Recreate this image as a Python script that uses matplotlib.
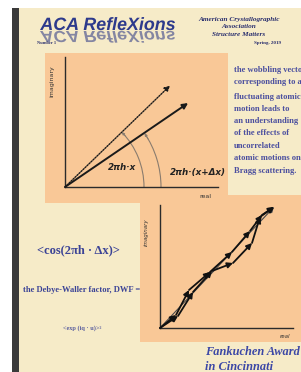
import matplotlib
matplotlib.use("Agg")
import matplotlib.pyplot as plt
from matplotlib.patches import Rectangle, Arc, PathPatch
from matplotlib.textpath import TextPath
from matplotlib.font_manager import FontProperties
from matplotlib.transforms import Affine2D
import numpy as np

# ---- data -------------------------------------------------------------
# top diagram: two phase vectors (angle in degrees, length) and angle arcs
vector_names = ["x", "x + dx"]
vector_angles = [34.3, 44.0]
vector_lengths = [149, 146]
arc_radii = [79, 96]
arc_angles = [44.0, 34.0]
arc_labels = ["2πh·x", "2πh·(x+Δx)"]

# bottom diagram: straight sum vector and two random walks
sum_vector = (114, 121)
walk_a_x = [0, 16, 29, 50, 72, 90, 102, 114]
walk_a_y = [0, 13, 38, 56, 76, 97, 113, 121]
walk_b_x = [0, 18, 33, 52, 73, 92, 100, 114]
walk_b_y = [0, 12, 36, 57, 65, 85, 111, 121]

column_lines = [
    "the wobbling vecto",
    "corresponding to a",
    "fluctuating atomic",
    "motion leads to",
    "an understanding",
    "of the effects of",
    "uncorrelated",
    "atomic motions on",
    "Bragg scattering.",
]
column_y = [70, 82, 97, 109, 121, 133, 146, 158, 171]

W, H = 301, 372
CREAM = "#f6ebc8"
PEACH = "#f9c897"
BLUE = "#3b4396"
INK = "#2b2b2b"

fig = plt.figure(figsize=(W / 100, H / 100), dpi=100, facecolor="white")
canvas = fig.add_axes([0, 0, 1, 1])
canvas.set_xlim(0, W)
canvas.set_ylim(H, 0)
canvas.axis("off")

# page background
canvas.add_patch(Rectangle((12, 8), 7, H, color="#3a3a3a", lw=0))
canvas.add_patch(Rectangle((19, 8), W, H, color=CREAM, lw=0))
canvas.add_patch(Rectangle((45, 53), 183, 150, color=PEACH, lw=0))
canvas.add_patch(Rectangle((140, 195), 161, 147, color=PEACH, lw=0))

# masthead with its mirrored reflection
fp = FontProperties(family="Liberation Sans", weight="bold", style="italic")
tp = TextPath((0, 0), "ACA RefleXions", size=10, prop=fp)
ext = tp.get_extents()
s = 135 / ext.width
x0 = 40 - ext.x0 * s
canvas.add_patch(PathPatch(tp, transform=Affine2D().scale(s, -s).translate(x0, 30)
                           + canvas.transData, color="#2d3a8c", lw=0))
canvas.add_patch(PathPatch(tp, transform=Affine2D().scale(s, s * 0.9).translate(x0, 31)
                           + canvas.transData, color="#5e6496", alpha=0.75, lw=0))

canvas.text(37, 43, "Number 1", fontsize=3.2, family="Liberation Serif",
            weight="bold", color="#2a2f6e", va="center")
for txt, yy in zip(["American Crystallographic", "Association", "Structure Matters"],
                   [20, 27, 34]):
    canvas.text(239, yy, txt, fontsize=5.2, family="Liberation Serif", weight="bold",
                style="italic", color="#2a2f6e", ha="center", va="center")
canvas.text(268, 43, "Spring, 2019", fontsize=3.6, family="Liberation Serif",
            weight="bold", color="#2a2f6e", ha="center", va="center")

# right-hand column (runs off the page edge, as on the cover)
for txt, yy in zip(column_lines, column_y):
    canvas.text(234, yy, txt, fontsize=6.1, family="Liberation Serif", weight="bold",
                color="#4b4f9f", va="center")

# lower-left formulas
canvas.text(78, 250, "<cos(2πh · Δx)>", fontsize=9, family="Liberation Serif",
            weight="bold", color=BLUE, ha="center", va="center")
canvas.text(82, 290, "the Debye-Waller factor, DWF =", fontsize=6.1,
            family="Liberation Serif", weight="bold", color=BLUE, ha="center", va="center")
canvas.text(82, 328, "<exp (iq · u)>²", fontsize=4.5, family="Liberation Serif",
            weight="bold", color="#5a5e9e", ha="center", va="center")

canvas.text(205, 352, "Fankuchen Award", fontsize=8.9, family="Liberation Serif",
            weight="bold", style="italic", color="#3b47a6", va="center")
canvas.text(205, 367, "in Cincinnati", fontsize=8.9, family="Liberation Serif",
            weight="bold", style="italic", color="#3b47a6", va="center")


def diagram_axes(ox, oy, w, h):
    ax = fig.add_axes([ox / W, (H - oy) / H, w / W, h / H])
    ax.set_xlim(0, w)
    ax.set_ylim(0, h)
    ax.patch.set_alpha(0)
    for side in ["top", "right"]:
        ax.spines[side].set_visible(False)
    for side in ["left", "bottom"]:
        ax.spines[side].set_color(INK)
        ax.spines[side].set_linewidth(1.0)
    ax.set_xticks([])
    ax.set_yticks([])
    return ax


# ---- top diagram ------------------------------------------------------
ax1 = diagram_axes(65, 187, 153, 130)
for name, ang, ln in zip(vector_names, vector_angles, vector_lengths):
    end = (ln * np.cos(np.radians(ang)), ln * np.sin(np.radians(ang)))
    ax1.annotate("", xy=end, xytext=(0, 0),
                 arrowprops=dict(arrowstyle="-|>", color="#1a1a1a",
                                 lw=1.4 if name == "x" else 1.0,
                                 ls="-" if name == "x" else (0, (1, 1)),
                                 mutation_scale=8, shrinkA=0, shrinkB=0))
for r, ang in zip(arc_radii, arc_angles):
    ax1.add_patch(Arc((0, 0), 2 * r, 2 * r, theta1=0, theta2=ang,
                      color="#8a7c6e", lw=0.8))
    a0, a1 = np.radians(ang - 4), np.radians(ang)
    ax1.annotate("", xy=(r * np.cos(a1), r * np.sin(a1)),
                 xytext=(r * np.cos(a0), r * np.sin(a0)),
                 arrowprops=dict(arrowstyle="-|>", color="#8a7c6e", lw=0.6,
                                 mutation_scale=4, shrinkA=0, shrinkB=0))
ax1.text(57, 19, arc_labels[0], fontsize=6.3, weight="bold", style="italic",
         color="#222", ha="center", va="center")
ax1.text(133, 14, arc_labels[1], fontsize=6.3, weight="bold", style="italic",
         color="#222", ha="center", va="center", clip_on=False)
ax1.text(140, -10, "real", fontsize=4.5, color="#333", ha="center", va="center")
ax1.text(-13, 106, "imaginary", fontsize=4.5, color="#333", rotation=90,
         ha="center", va="center")

# ---- bottom diagram ---------------------------------------------------
ax2 = diagram_axes(160, 328, 133, 123)
ax2.annotate("", xy=sum_vector, xytext=(0, 0),
             arrowprops=dict(arrowstyle="-|>", color="#4a4a4a", lw=0.8,
                             mutation_scale=8, shrinkA=0, shrinkB=0))
for xs, ys in [(walk_a_x, walk_a_y), (walk_b_x, walk_b_y)]:
    for i in range(len(xs) - 1):
        ax2.annotate("", xy=(xs[i + 1], ys[i + 1]), xytext=(xs[i], ys[i]),
                     arrowprops=dict(arrowstyle="-|>", color="#111", lw=1.3,
                                     mutation_scale=8, shrinkA=0, shrinkB=0))
ax2.text(125, -9, "real", fontsize=4, style="italic", color="#333",
         ha="center", va="center")
ax2.text(-14, 96, "imaginary", fontsize=4, style="italic", color="#333",
         rotation=90, ha="center", va="center")

fig.savefig("out.png", dpi=100, facecolor="white")
